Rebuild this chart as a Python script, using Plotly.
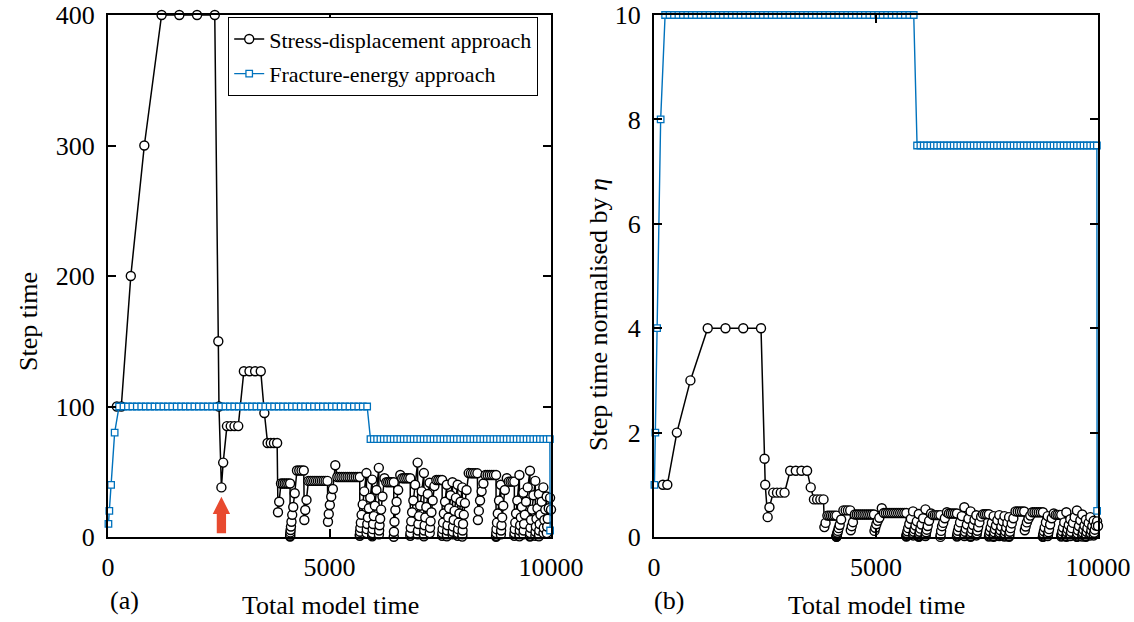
import numpy as np
import plotly.graph_objects as go

FONT = "Liberation Serif"
BLUE = "#0072BD"
RED = "#e84a2f"

# Stress-displacement approach: opening increments with their recorded total time
sd_time_head = [200, 300, 515, 820, 1210, 1610, 2010, 2410, 2490, 2505, 2560, 2600,
                2685, 2770, 2855, 2940, 3067, 3194, 3321, 3448, 3530, 3602, 3674, 3746, 3818]
sd_step_head = [100, 100, 200, 300, 400, 400, 400, 400, 150, 100, 38, 57,
                85, 85, 85, 85, 127, 127, 127, 127, 95, 72, 72, 72, 72]

# Later increments (total time accumulates from the step sizes)
sd_step_tail = [
    19, 27, 41, 41, 41, 41, 41, 41,
    0.3, 0.8, 1.8, 3.5, 5.4, 8, 11.7, 17, 23, 33.5,
    51, 51, 51, 51,
    13, 20.7, 28.4,
    43, 43, 43, 43, 43, 43, 43, 43, 43, 43, 43,
    11.7, 17.6, 24.5, 30.9, 36.8, 55,
    46, 46, 46, 46, 46, 46, 46, 46, 46, 46, 46, 46,
    1, 2, 4, 7, 11, 17, 25, 35, 49,
    3, 6, 10, 15, 22, 30, 44,
    0.5, 1.5, 3, 6, 10, 16, 24, 36, 53,
    2, 5, 9, 14, 21, 31, 45,
    42, 42, 42, 42, 42,
    0.2, 4, 11.7, 20.7, 27, 36, 47.5,
    45, 45, 45, 45, 45,
    1, 3, 7, 12, 19, 28, 40, 57,
    2, 5, 10, 16, 24, 35, 49,
    0.5, 2, 5, 9, 15, 23, 33, 41.6,
    3, 7, 12, 19, 28, 39,
    43.7, 43.7, 43.7, 43.7,
    1, 3, 6, 11, 18, 27, 40,
    0.5, 2, 5, 9, 15, 22, 32, 42,
    2, 4, 8, 13, 20, 30, 40,
    1, 3, 6, 11, 18, 27, 38,
    0.3, 2, 5, 10, 17, 26, 36, 49,
    48.8, 48.8, 48.8, 48.8,
    13, 20, 28, 35, 41,
    47.5, 47.5, 47.5, 47.5, 47.5, 47.5,
    0.2, 1, 3, 6, 11, 18, 28, 40,
    2, 5, 9, 15, 24, 36, 45,
    42.4, 42.4, 42.4, 42.4,
    1, 3, 6, 11, 18, 28, 47.5,
    0.5, 2, 5, 9, 15, 23, 34,
    2, 5, 10, 17, 27, 38, 50.8,
    0.3, 1, 3, 7, 13, 21, 32, 43,
    1, 4, 8, 14, 22, 33,
    0.5, 2, 5, 10, 17, 27, 38,
    3, 7, 13, 21, 31,
    3, 8, 14, 22, 30, 21,
]

# Fracture-energy approach step sizes
fe_step = [10, 20, 40, 80] + [100] * 57 + [75] * 55 + [5]

# Normalisation factors
eta_sd = 100
eta_fe = 10

# Axis ticks
x_ticks = [0, 5000, 10000]
x_ticktext = ["0", "5000", "10000"]
y_ticks_a = [0, 100, 200, 300, 400]
y_ticks_b = [0, 2, 4, 6, 8, 10]

# Highlighted increment (index in the stress-displacement series)
arrow_idx = 10

sd_step = np.array(sd_step_head + sd_step_tail, dtype=float)
sd_time = np.concatenate([np.array(sd_time_head, dtype=float),
                          sd_time_head[-1] + np.cumsum(sd_step_tail)])
fe_step_arr = np.array(fe_step, dtype=float)
fe_time = np.cumsum(fe_step_arr)

fig = go.Figure()

circle = dict(symbol="circle", size=9, color="white", line=dict(color="black", width=1.4))
square = dict(symbol="square", size=6.5, color="white", line=dict(color=BLUE, width=1.3))

fig.add_trace(go.Scatter(x=sd_time, y=sd_step, mode="lines+markers", name="Stress-displacement approach",
                         line=dict(color="black", width=1.5), marker=circle, cliponaxis=False,
                         legendgroup="a", xaxis="x", yaxis="y"))
fig.add_trace(go.Scatter(x=fe_time, y=fe_step_arr, mode="lines+markers", name="Fracture-energy approach",
                         line=dict(color=BLUE, width=1.4), marker=square, cliponaxis=False,
                         legendgroup="b", xaxis="x", yaxis="y"))
fig.add_trace(go.Scatter(x=sd_time, y=sd_step / eta_sd, mode="lines+markers", showlegend=False,
                         line=dict(color="black", width=1.5), marker=circle, cliponaxis=False,
                         xaxis="x2", yaxis="y2"))
fig.add_trace(go.Scatter(x=fe_time, y=fe_step_arr / eta_fe, mode="lines+markers", showlegend=False,
                         line=dict(color=BLUE, width=1.4), marker=square, cliponaxis=False,
                         xaxis="x2", yaxis="y2"))

W, H = 1134, 622
ydom = [1 - 537 / H, 1 - 15 / H]

axis_common = dict(showline=True, linecolor="black", linewidth=2.2, mirror="ticks",
                   ticks="inside", ticklen=8, tickwidth=1.6, tickcolor="black",
                   showgrid=False, zeroline=False, automargin=False,
                   ticklabelstandoff=6,
                   tickfont=dict(family=FONT, size=26, color="black"))

fig.update_layout(
    width=W, height=H,
    margin=dict(l=0, r=0, t=0, b=0, autoexpand=False),
    paper_bgcolor="white", plot_bgcolor="white",
    xaxis=dict(domain=[108 / W, 551 / W], range=[0, 10000], tickvals=x_ticks,
               ticktext=x_ticktext, **axis_common),
    yaxis=dict(domain=ydom, range=[0, 400], tickvals=y_ticks_a, **axis_common),
    xaxis2=dict(domain=[654 / W, 1098 / W], range=[0, 10000], tickvals=x_ticks,
                ticktext=x_ticktext, anchor="y2", **axis_common),
    yaxis2=dict(domain=ydom, range=[0, 10], tickvals=y_ticks_b, anchor="x2", **axis_common),
    legend=dict(x=228 / W, y=1 - 17 / H, xanchor="left", yanchor="top",
                bgcolor="white", bordercolor="black", borderwidth=1.2,
                font=dict(family=FONT, size=22, color="black"),
                itemwidth=30, tracegroupgap=3, traceorder="grouped"),
    showlegend=True,
)

# Red arrow pointing at the highlighted increment
ax0 = sd_time[arrow_idx]
tip, head_base, bottom = 30.9, 17.6, 2.8
hw_head, hw_shaft = 196, 105
path = (f"M {ax0} {tip} L {ax0 + hw_head} {head_base} L {ax0 + hw_shaft} {head_base} "
        f"L {ax0 + hw_shaft} {bottom} L {ax0 - hw_shaft} {bottom} L {ax0 - hw_shaft} {head_base} "
        f"L {ax0 - hw_head} {head_base} Z")
fig.add_shape(type="path", path=path, xref="x", yref="y", fillcolor=RED, line=dict(width=0))

def text(x, y, s, size=26, angle=0):
    fig.add_annotation(x=x / W, y=1 - y / H, xref="paper", yref="paper", text=s, showarrow=False,
                       textangle=angle, font=dict(family=FONT, size=size, color="black"),
                       xanchor="center", yanchor="middle")

text(330, 605, "Total model time")
text(876, 605, "Total model time")
text(124, 600, "(a)")
text(669, 600, "(b)")
text(28, 322, "Step time", angle=-90)
text(598, 315, "Step time normalised by <i>η</i>", angle=-90)

fig.write_html("out.html")
